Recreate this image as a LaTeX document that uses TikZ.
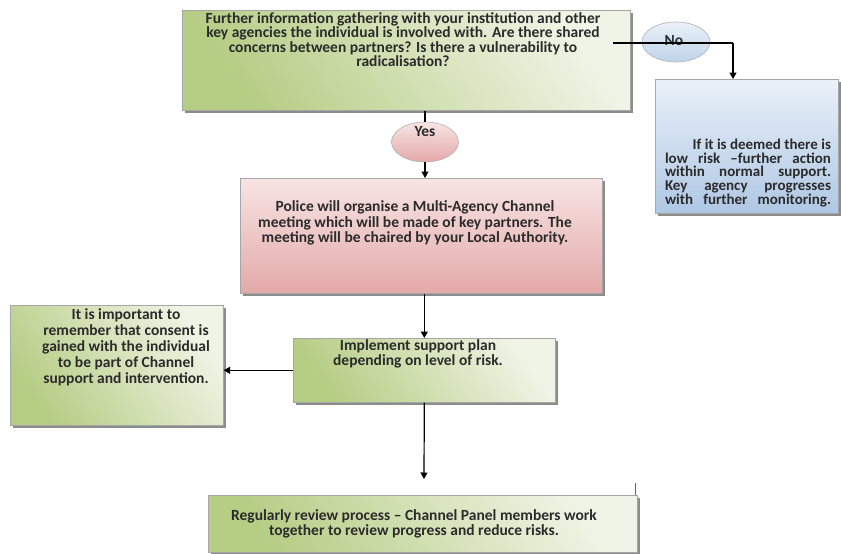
\documentclass[tikz,border=0pt]{standalone}
\usepackage{fontspec}
\setmainfont{Carlito}
\usetikzlibrary{arrows.meta,shadows,shapes.geometric}
\definecolor{grdark}{HTML}{B6CD84}
\definecolor{grlight}{HTML}{F0F4E6}
\definecolor{pklight}{HTML}{F8E4E4}
\definecolor{pkdark}{HTML}{E2A9A8}
\definecolor{bllight}{HTML}{EAF1F9}
\definecolor{bldark}{HTML}{AFC7E4}
\definecolor{txt}{HTML}{2B2B2B}
\definecolor{shd}{HTML}{8C8C8C}
\tikzset{
  box/.style={draw=black!35, line width=0.6pt, anchor=north west, inner sep=0pt,
    drop shadow={shadow xshift=3pt, shadow yshift=-3pt, fill=shd, opacity=1}},
  greenbox/.style={box, top color=grlight, bottom color=grdark, shading angle=-55},
  pinkbox/.style={box, top color=pklight, bottom color=pkdark},
  bluebox/.style={box, top color=bllight, bottom color=bldark},
  oval/.style={ellipse, draw=black!30, line width=0.6pt, inner sep=0pt},
  txtnode/.style={text=txt, font=\bfseries\fontsize{15.5}{14.5}\selectfont, align=center, inner sep=0pt, anchor=north},
  conn/.style={draw=black, line width=1.2pt},
  arr/.style={conn, -{Triangle[width=7pt,length=6.5pt]}},
}
\newcommand{\bline}[1]{\makebox[166pt][s]{#1}}
\begin{document}
\begin{tikzpicture}[x=1pt,y=-1pt]
\useasboundingbox (0,0) rectangle (841,554);
% boxes
\node[greenbox, minimum width=448pt, minimum height=100pt] (top) at (182,10) {};
\node[bluebox, minimum width=183pt, minimum height=134pt] (blue) at (655,79) {};
\node[pinkbox, minimum width=362pt, minimum height=115pt] (pink) at (240,178) {};
\node[greenbox, minimum width=262pt, minimum height=64pt] (impl) at (293,338) {};
\node[greenbox, minimum width=213pt, minimum height=120pt] (left) at (10,305) {};
\node[greenbox, minimum width=429pt, minimum height=57pt] (review) at (208,495) {};
% ovals
\node[oval, bottom color=bldark!80, top color=bllight, minimum width=68pt, minimum height=40pt] (no) at (676,42) {};
\node[oval, bottom color=pkdark, top color=pklight, minimum width=67pt, minimum height=40pt] (yes) at (425,142) {};
% texts
\node[txtnode] (ttop) at (403,12) {Further information gathering with your institution and other\\key agencies the individual is involved with. Are there shared\\concerns between partners? Is there a vulnerability to\\radicalisation?};
\node[txtnode] (tno) at (674,35) {No};
\node[txtnode] (tyes) at (425,126.5) {Yes};
\node[txtnode, font=\bfseries\fontsize{15}{13.8}\selectfont, align=right] (tblue) at (748,138.5) {If it is deemed there is\\\bline{low risk –further action}\\\bline{within normal support.}\\\bline{Key agency progresses}\\\bline{with further monitoring.}};
\node[txtnode, font=\bfseries\fontsize{15.5}{15.5}\selectfont] (tpink) at (415,200.5) {Police will organise a Multi-Agency Channel\\meeting which will be made of key partners. The\\meeting will be chaired by your Local Authority.};
\node[txtnode, font=\bfseries\fontsize{15.5}{15}\selectfont] (timpl) at (418,339.5) {Implement support plan\\depending on level of risk.};
\node[txtnode, font=\bfseries\fontsize{15.5}{16}\selectfont] (tleft) at (126,308) {It is important to\\remember that consent is\\gained with the individual\\to be part of Channel\\support and intervention.};
\node[txtnode, font=\bfseries\fontsize{15.5}{15}\selectfont] (treview) at (414,509) {Regularly review process – Channel Panel members work\\together to review progress and reduce risks.};
% connectors
\coordinate (nostart) at (613,43);
\coordinate (nocorner) at (733,43);
\draw[conn] (nostart) -- (nocorner);
\draw[arr] (nocorner) -- (nocorner |- blue.north);
\draw[conn] (top.south -| yes.north) -- (yes.north);
\draw[arr] (yes.south) -- (yes.south |- pink.north);
\draw[arr] (pink.south -| impl.north) -- (impl.north);
\draw[arr] (impl.west) -- (impl.west -| left.east);
\coordinate (revend) at (424,479);
\draw[arr] (impl.south) -- (revend);
\coordinate (tickA) at (635,483);
\draw[draw=black!60, line width=1pt] (tickA) -- (tickA |- review.north);
\end{tikzpicture}
\end{document}
